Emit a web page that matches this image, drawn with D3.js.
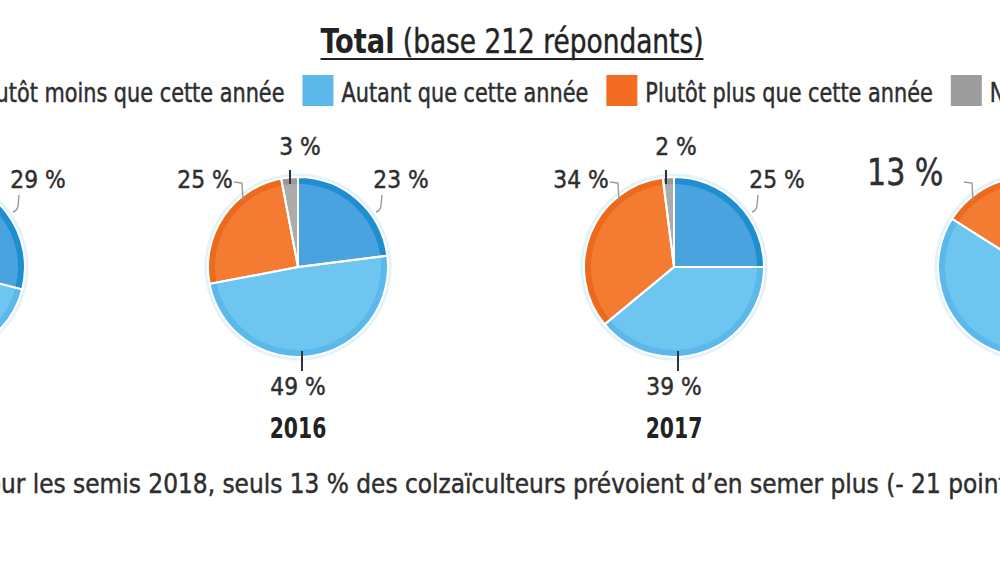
<!DOCTYPE html>
<html>
<head>
<meta charset="utf-8">
<script src="https://cdn.jsdelivr.net/npm/d3@7"></script>
<style>
  body { margin: 0; background: #fff; }
  svg { display: block; font-family: "Liberation Sans Narrow", "DejaVu Sans Condensed", sans-serif; }
  .heavy { stroke: #2e2e2e; stroke-width: 0.45px; }
</style>
</head>
<body>
<svg id="chart" width="1000" height="562"></svg>
<script>
// values (2015 and 2018 are cut by the frame, hidden parts estimated)
const years = ["2015", "2016", "2017", "2018"];
const series = ["Plutôt moins que cette année", "Autant que cette année", "Plutôt plus que cette année", "Ne sait pas"];
const moins = [29, 23, 25, 31];
const autant = [39, 49, 39, 53];
const plus = [29, 25, 34, 13];
const nsp = [3, 3, 2, 3];
const highlightYear = "2018";
const titleBold = "Total";
const titleRest = " (base 212 répondants)";
const caption = "Pour les semis 2018, seuls 13 % des colzaïculteurs prévoient d’en semer plus (- 21 points par rapport à 2017).";

let svg = d3.select("#chart"),
    cy = 267,
    r = 90;

// the print font is condensed: squeeze the text horizontally
let sxTitle = 0.89, sxLegend = 0.89, sxPct = 0.97, sxBig = 0.88, sxYear = 0.78, sxCap = 0.96;

let x = d3.scaleOrdinal().domain(years).range([-65, 298, 674, 1028]);
let color = d3.scaleOrdinal().domain(series).range(["#4aa2df", "#6dc5f0", "#f47c32", "#acacac"]);
let rim = d3.scaleOrdinal().domain(series).range(["#1f8ed0", "#5ab8ea", "#ec6a1e", "#999999"]);
let swatch = d3.scaleOrdinal().domain(series).range(["#2f96d6", "#5cb8e8", "#f26c22", "#9d9d9d"]);

let pie = d3.pie().sort(null).value(d => d.value);
let arc = d3.arc().innerRadius(0).outerRadius(r);
let rimArc = d3.arc().innerRadius(r - 7).outerRadius(r);

// where each series puts its % label and leader, relative to the pie centre
let labelPos = [{dx: 103, dy: -79}, {dx: 0, dy: 128}, {dx: -93, dy: -79}, {dx: 2, dy: -112}];
let leaders = [
  {d: "M84,-72L83,-61Q82,-56 78,-55", stroke: "#999", w: 1.4},
  {d: "M4,84L4,104", stroke: "#333", w: 2},
  {d: "M-64,-85L-56,-84L-55,-66", stroke: "#999", w: 1.4},
  {d: "M-8,-97L-8,-83", stroke: "#333", w: 2}
];

let rows = years.map((y, i) => ({
  year: y,
  values: [moins[i], autant[i], plus[i], nsp[i]].map((v, k) => ({key: series[k], value: v}))
}));

// title
let tg = svg.append("g").attr("transform", "translate(512,53)");
let title = tg.append("text")
    .attr("text-anchor", "middle")
    .attr("transform", "scale(" + sxTitle + ",1)")
    .attr("fill", "#222");
title.append("tspan").attr("font-weight", "bold").attr("font-size", 34).text(titleBold);
title.append("tspan").attr("class", "heavy").attr("font-size", 33).attr("xml:space", "preserve").text(titleRest);
let bb = title.node().getBBox();
tg.append("line")
    .attr("x1", bb.x * sxTitle).attr("x2", (bb.x + bb.width) * sxTitle)
    .attr("y1", 6).attr("y2", 6)
    .attr("stroke", "#222").attr("stroke-width", 2);

// legend
let legend = svg.append("g").attr("font-size", 26).attr("fill", "#2e2e2e");
let items = legend.selectAll("g")
  .data(series)
  .enter().append("g");
items.append("rect")
    .attr("y", 75)
    .attr("width", 31)
    .attr("height", 31)
    .attr("fill", swatch);
items.append("text")
    .attr("class", "heavy")
    .attr("transform", "translate(39,102) scale(" + sxLegend + ",1)")
    .text(d => d);
let lx = 0;
items.each(function() {
  let w = this.querySelector("text").getComputedTextLength() * sxLegend;
  d3.select(this).attr("transform", "translate(" + lx + ",0)");
  lx += 39 + w + 18;
});
legend.attr("transform", "translate(" + (522 - (lx - 18) / 2) + ",0)");

// pies
let pies = svg.selectAll("g.pie")
  .data(rows)
  .enter().append("g")
    .attr("class", "pie")
    .attr("transform", d => "translate(" + x(d.year) + "," + cy + ")");

pies.append("circle")
    .attr("r", r + 2)
    .attr("fill", "none")
    .attr("stroke", "#e2f2fb")
    .attr("stroke-width", 3);

pies.selectAll("path.slice")
  .data(d => pie(d.values))
  .enter().append("path")
    .attr("class", "slice")
    .attr("d", arc)
    .attr("fill", d => color(d.data.key));

pies.selectAll("path.rim")
  .data(d => pie(d.values))
  .enter().append("path")
    .attr("class", "rim")
    .attr("d", rimArc)
    .attr("fill", d => rim(d.data.key));

pies.selectAll("path.sep")
  .data(d => pie(d.values))
  .enter().append("path")
    .attr("class", "sep")
    .attr("d", arc)
    .attr("fill", "none")
    .attr("stroke", "#fff")
    .attr("stroke-width", 2);

pies.selectAll("path.leader")
  .data(d => pie(d.values).map((s, k) => k))
  .enter().append("path")
    .attr("class", "leader")
    .attr("d", k => leaders[k].d)
    .attr("fill", "none")
    .attr("stroke", k => leaders[k].stroke)
    .attr("stroke-width", k => leaders[k].w);

// the highlighted year gets bigger labels, pushed further out
function labelX(d) {
  let dx = labelPos[d.k].dx;
  if (d.hi) dx = dx < 0 ? dx * 1.32 : dx * 1.32 + 16;
  return dx;
}
pies.selectAll("text.pct")
  .data(d => pie(d.values).map((s, k) => ({s: s, k: k, hi: d.year === highlightYear})))
  .enter().append("text")
    .attr("class", "pct heavy")
    .attr("transform", d => "translate(" + labelX(d) + "," + (labelPos[d.k].dy + (d.hi ? -3 : 0)) + ") scale(" + (d.hi ? sxBig : sxPct) + ",1)")
    .attr("text-anchor", "middle")
    .attr("font-size", d => d.hi ? 38 : 25)
    .attr("fill", "#2e2e2e")
    .text(d => d.s.data.value + " %");

pies.append("text")
    .attr("transform", "translate(0,171) scale(" + sxYear + ",1)")
    .attr("text-anchor", "middle")
    .attr("font-weight", "bold")
    .attr("font-size", 29)
    .attr("fill", "#222")
    .text(d => d.year);

// caption, its first letters fall outside the frame
let probe = svg.append("text").attr("font-size", 27).text("Po");
let pw = probe.node().getComputedTextLength() * sxCap;
probe.remove();
svg.append("text")
    .attr("class", "heavy")
    .attr("transform", "translate(" + (-pw + 1) + ",493) scale(" + sxCap + ",1)")
    .attr("font-size", 27)
    .attr("fill", "#2e2e2e")
    .text(caption);
</script>
</body>
</html>
